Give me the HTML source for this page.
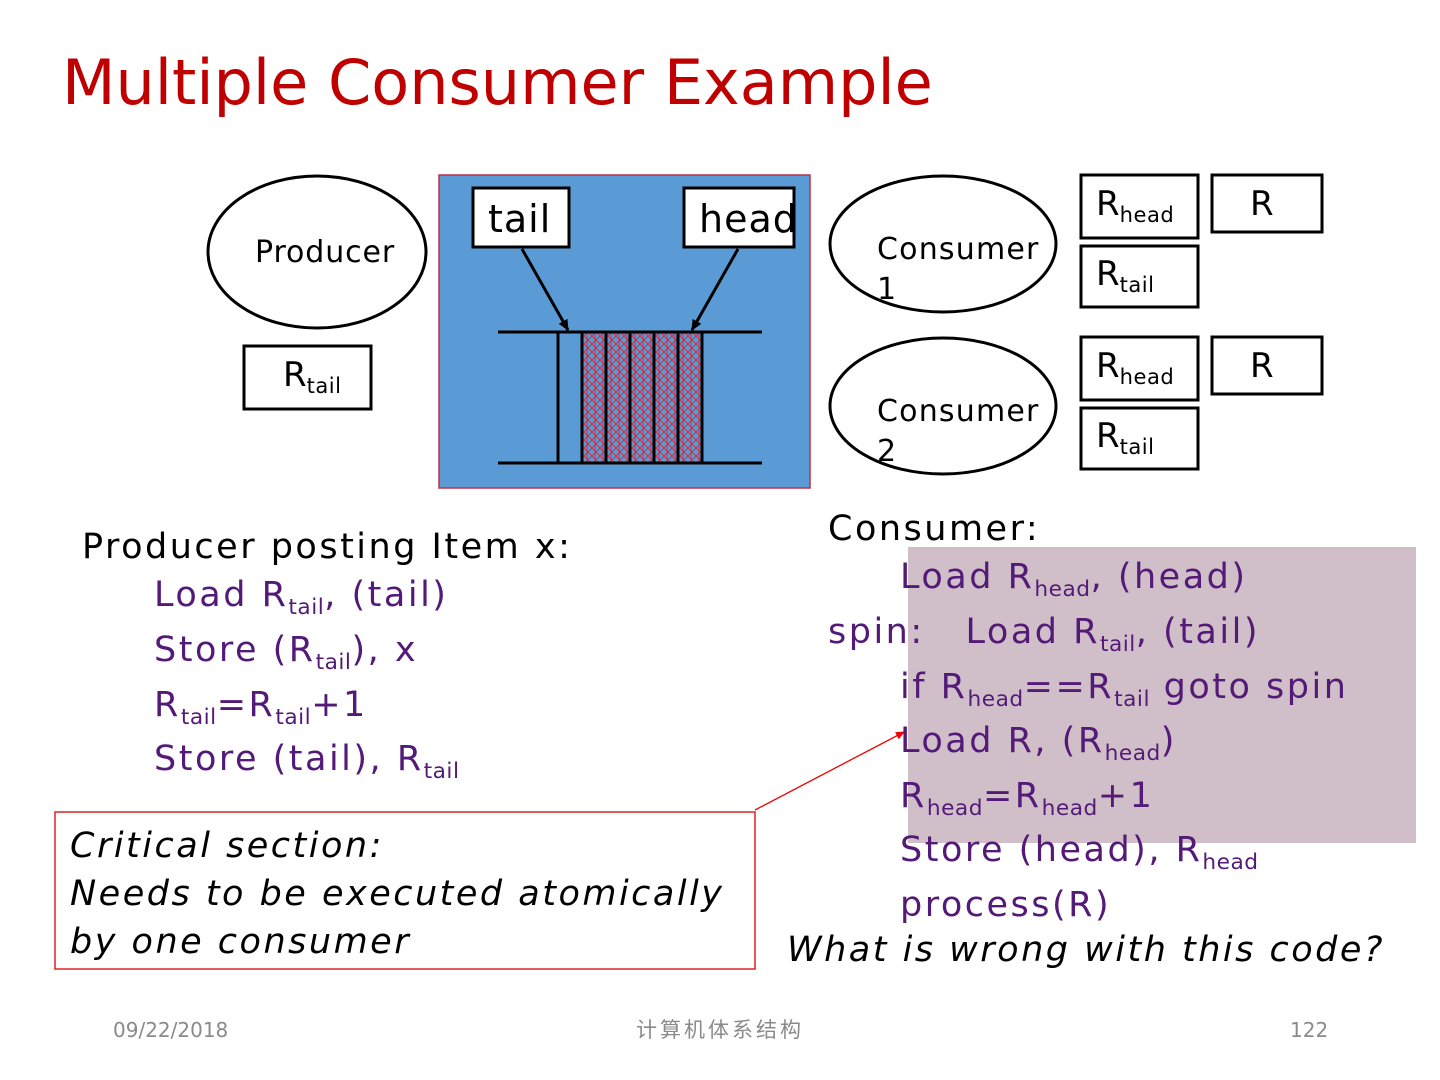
<!DOCTYPE html>
<html><head><meta charset="utf-8"><style>
body{margin:0;width:1440px;height:1080px;background:#fff;position:relative;overflow:hidden;font-family:"DejaVu Sans","Liberation Sans",sans-serif}
.t{position:absolute;white-space:nowrap;line-height:1}
.s{font-size:0.62em;position:relative;top:0.35em;letter-spacing:0.5px}
.p{color:#541a78}
.c{font-size:35px;letter-spacing:2.5px}
</style></head><body>
<svg width="1440" height="1080" style="position:absolute;left:0;top:0">
<defs>
<pattern id="h" width="8" height="8" patternUnits="userSpaceOnUse"><rect width="8" height="8" fill="#5b9bd5"/><path d="M0,0L8,8M8,0L0,8M3,0V8" stroke="#e02030" stroke-width="0.8"/></pattern>
<marker id="a" markerWidth="12" markerHeight="12" refX="10" refY="5" orient="auto" markerUnits="userSpaceOnUse"><path d="M0,0L11,5L0,10z" fill="#000"/></marker>
<marker id="r" markerWidth="10" markerHeight="10" refX="8" refY="4" orient="auto" markerUnits="userSpaceOnUse"><path d="M0,0L9,4L0,8z" fill="#e00"/></marker>
</defs>
<ellipse cx="317" cy="252" rx="109" ry="76" fill="#fff" stroke="#000" stroke-width="3"/>
<rect x="244" y="346" width="127" height="63" fill="#fff" stroke="#000" stroke-width="3"/>
<rect x="439" y="175" width="371" height="313" fill="#5b9bd5" stroke="#c0304a" stroke-width="1.5"/>
<rect x="473" y="188" width="96" height="59" fill="#fff" stroke="#000" stroke-width="3"/>
<rect x="684" y="188" width="110" height="59" fill="#fff" stroke="#000" stroke-width="3"/>
<line x1="522" y1="249" x2="568" y2="330" stroke="#000" stroke-width="3" marker-end="url(#a)"/>
<line x1="738" y1="249" x2="692" y2="330" stroke="#000" stroke-width="3" marker-end="url(#a)"/>
<rect x="582" y="332" width="120" height="131" fill="url(#h)"/>
<g stroke="#000" stroke-width="3">
<line x1="498" y1="332" x2="762" y2="332"/><line x1="498" y1="463" x2="762" y2="463"/>
<line x1="558" y1="332" x2="558" y2="463"/><line x1="582" y1="332" x2="582" y2="463"/>
<line x1="606" y1="332" x2="606" y2="463"/><line x1="630" y1="332" x2="630" y2="463"/>
<line x1="654" y1="332" x2="654" y2="463"/><line x1="678" y1="332" x2="678" y2="463"/>
<line x1="702" y1="332" x2="702" y2="463"/>
</g>
<ellipse cx="943" cy="244" rx="113" ry="68" fill="#fff" stroke="#000" stroke-width="3"/>
<ellipse cx="943" cy="406" rx="113" ry="68" fill="#fff" stroke="#000" stroke-width="3"/>
<g fill="#fff" stroke="#000" stroke-width="3">
<rect x="1081" y="175" width="117" height="63"/><rect x="1212" y="175" width="110" height="57"/>
<rect x="1081" y="246" width="117" height="61"/>
<rect x="1081" y="337" width="117" height="63"/><rect x="1212" y="337" width="110" height="57"/>
<rect x="1081" y="408" width="117" height="61"/>
</g>
<rect x="908" y="547" width="508" height="296" fill="#d0bec8"/>
<rect x="55" y="812" width="700" height="157" fill="#fff" stroke="#e02020" stroke-width="1.5"/>
<line x1="755" y1="810" x2="904" y2="732" stroke="#e00" stroke-width="1.3" marker-end="url(#r)"/>
</svg>
<div class="t" style="left:62px;top:52px;font-size:62px;color:#c00000">Multiple Consumer Example</div>
<div class="t" style="left:255px;top:238px;font-size:30px;letter-spacing:0.9px">Producer</div>
<div class="t" style="left:283px;top:358px;font-size:34px">R<span class="s">tail</span></div>
<div class="t" style="left:488px;top:200px;font-size:38px;letter-spacing:1px">tail</div>
<div class="t" style="left:699px;top:200px;font-size:38px;width:95px;overflow:hidden;letter-spacing:1px">head</div>
<div class="t" style="left:877px;top:230px;font-size:30px;line-height:40px;letter-spacing:1.2px">Consumer<br>1</div>
<div class="t" style="left:877px;top:392px;font-size:30px;line-height:40px;letter-spacing:1.2px">Consumer<br>2</div>
<div class="t" style="left:1096px;top:187px;font-size:34px">R<span class="s">head</span></div>
<div class="t" style="left:1250px;top:187px;font-size:34px">R</div>
<div class="t" style="left:1096px;top:257px;font-size:34px">R<span class="s">tail</span></div>
<div class="t" style="left:1096px;top:349px;font-size:34px">R<span class="s">head</span></div>
<div class="t" style="left:1250px;top:349px;font-size:34px">R</div>
<div class="t" style="left:1096px;top:419px;font-size:34px">R<span class="s">tail</span></div>

<div class="t c" style="left:82px;top:530px">Producer posting Item x:</div>
<div class="t c p" style="left:154px;top:578px">Load R<span class="s">tail</span>, (tail)</div>
<div class="t c p" style="left:154px;top:633px">Store (R<span class="s">tail</span>), x</div>
<div class="t c p" style="left:154px;top:688px">R<span class="s">tail</span>=R<span class="s">tail</span>+1</div>
<div class="t c p" style="left:154px;top:742px">Store (tail), R<span class="s">tail</span></div>

<div class="t c" style="left:70px;top:822px;font-style:italic;line-height:48px">Critical section:<br>Needs to be executed atomically<br>by one consumer</div>

<div class="t c" style="left:828px;top:512px">Consumer:</div>
<div class="t c p" style="left:900px;top:560px">Load R<span class="s">head</span>, (head)</div>
<div class="t c p" style="left:828px;top:615px">spin:&nbsp;&nbsp; Load R<span class="s">tail</span>, (tail)</div>
<div class="t c p" style="left:900px;top:670px">if R<span class="s">head</span>==R<span class="s">tail</span> goto spin</div>
<div class="t c p" style="left:900px;top:724px">Load R, (R<span class="s">head</span>)</div>
<div class="t c p" style="left:900px;top:779px">R<span class="s">head</span>=R<span class="s">head</span>+1</div>
<div class="t c p" style="left:900px;top:833px">Store (head), R<span class="s">head</span></div>
<div class="t c p" style="left:900px;top:888px">process(R)</div>
<div class="t c" style="left:787px;top:933px;font-style:italic">What is wrong with this code?</div>

<div class="t" style="left:113px;top:1020px;font-size:20px;color:#8a8a8a">09/22/2018</div>
<div class="t" style="left:636px;top:1019px;font-size:21px;color:#8a8a8a;letter-spacing:3px;font-family:'Noto Sans CJK SC',sans-serif">计算机体系结构</div>
<div class="t" style="left:1290px;top:1020px;font-size:20px;color:#8a8a8a">122</div>
</body></html>
